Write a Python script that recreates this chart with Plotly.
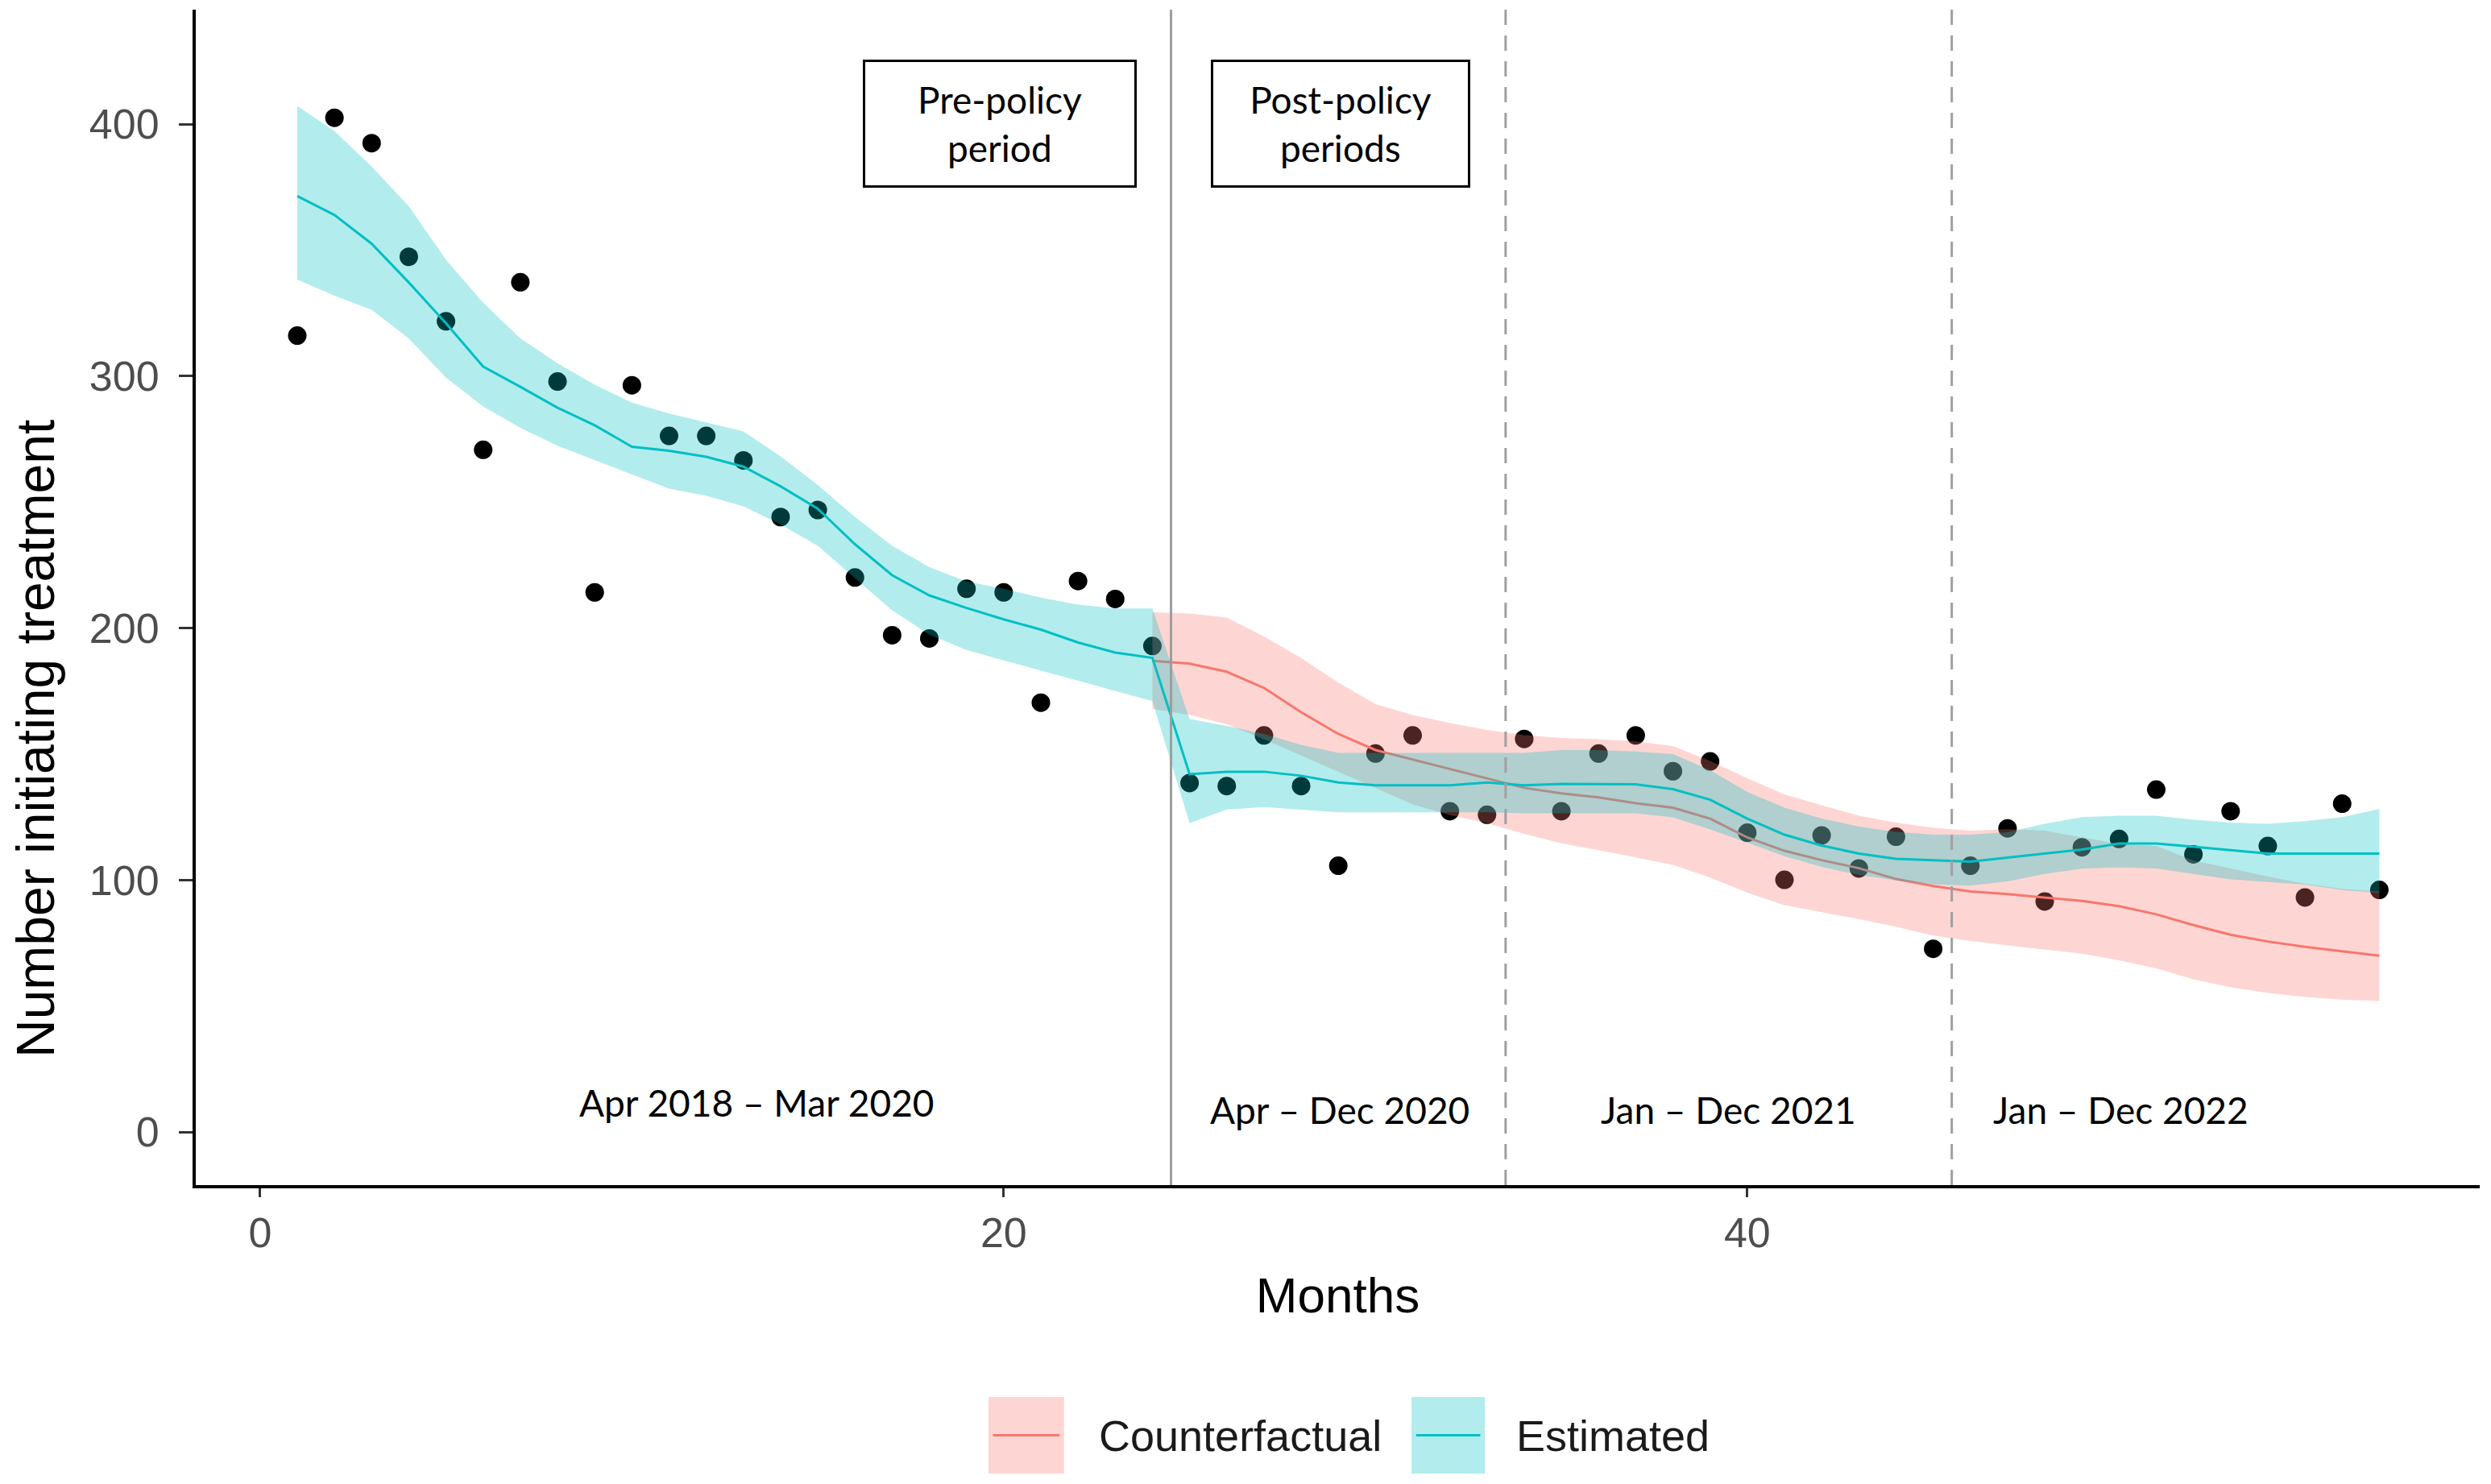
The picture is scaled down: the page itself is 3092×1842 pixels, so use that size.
import plotly.graph_objects as go

# ---------------- data ----------------
months = list(range(1, 58))
observed = [316.1, 402.6, 392.5, 347.4, 321.8, 270.8, 337.3, 297.9, 214.2, 296.4,
            276.3, 276.3, 266.6, 244.1, 246.9, 220.1, 197.2, 195.9, 215.6, 214.2,
            170.4, 218.7, 211.6, 192.9,
            138.5, 137.3, 157.4, 137.3, 105.7, 150.2, 157.4, 127.3, 125.9, 156.0,
            127.3, 150.2, 157.4, 143.2, 147.1, 118.8, 100.1, 117.7, 104.6, 117.2,
            72.7, 105.7, 120.5, 91.5, 113.0, 116.3, 135.9, 110.2, 127.3, 113.5,
            93.1, 130.3, 96.1]

estimated = [371.5, 364.0, 352.6, 337.2, 321.0, 303.8, 295.8, 287.5, 280.5, 272.0,
             270.4, 268.0, 264.1, 256.3, 247.4, 233.3, 221.0, 213.0, 208.0, 203.5,
             199.4, 194.3, 190.3, 188.2,
             142.0, 143.0, 143.0, 141.4, 138.7, 137.6, 137.6, 137.6, 138.7, 137.6,
             138.2, 138.2, 138.0, 136.1, 131.9, 124.4, 118.0, 113.7, 110.5, 108.4,
             107.9, 107.3, 108.9, 110.5, 112.1, 114.5, 114.5, 113.2, 111.9, 110.5,
             110.5, 110.5, 110.5]
estimated_upper = [407.3, 397.3, 383.2, 367.5, 346.2, 329.2, 315.0, 305.1, 296.6, 289.5,
                   285.2, 281.6, 278.1, 268.2, 256.8, 244.1, 232.7, 224.2, 218.5, 215.6,
                   212.1, 209.3, 207.8, 207.8,
                   163.9, 161.2, 158.0, 153.7, 150.5, 150.5, 150.5, 150.5, 150.5, 150.5,
                   151.6, 151.6, 151.0, 150.0, 143.6, 135.0, 128.7, 124.4, 121.2, 119.1,
                   118.0, 118.0, 119.0, 122.3, 125.0, 125.5, 125.5, 123.9, 122.8, 122.3,
                   123.4, 125.0, 128.2]
estimated_lower = [338.4, 332.0, 326.4, 315.0, 299.4, 288.0, 279.5, 272.4, 266.7, 261.1,
                   255.4, 252.6, 248.3, 241.2, 232.7, 219.9, 207.1, 197.4, 191.3, 187.2,
                   183.2, 179.0, 175.0, 171.0,
                   122.6, 128.0, 129.0, 128.0, 126.9, 126.9, 126.9, 126.9, 126.9, 126.5,
                   126.5, 126.5, 126.5, 124.9, 120.1, 114.8, 109.5, 105.2, 102.0, 99.9,
                   98.3, 97.8, 99.5, 102.4, 104.5, 105.1, 104.6, 102.4, 100.3, 99.2,
                   98.2, 96.0, 94.9]

cf_months = list(range(24, 58))
counterfactual = [187.0, 185.9, 182.7, 176.3, 166.6, 158.0, 151.6, 147.8, 144.1, 140.3,
                  136.6, 134.4, 132.8, 130.5, 128.7, 124.4, 116.9, 111.6, 107.9, 104.7,
                  100.4, 97.6, 95.5, 94.4, 93.1, 91.7, 89.6, 86.4, 82.1, 78.3,
                  75.6, 73.5, 71.7, 70.0]
cf_upper = [206.3, 205.8, 204.2, 196.7, 188.1, 178.4, 169.8, 165.5, 162.3, 159.6,
            157.5, 156.4, 155.9, 155.0, 153.2, 147.3, 140.4, 134.0, 129.7, 125.5,
            122.8, 120.7, 119.6, 120.2, 119.6, 117.0, 114.3, 113.5, 107.8, 104.6,
            101.4, 98.5, 96.5, 95.5]
cf_lower = [168.0, 165.5, 161.8, 155.9, 149.4, 143.0, 136.6, 130.1, 125.8, 122.6,
            118.3, 114.6, 111.9, 109.0, 106.0, 101.0, 95.0, 90.0, 87.3, 84.5,
            81.5, 78.0, 75.8, 74.0, 72.4, 70.8, 68.1, 64.9, 60.6, 57.4,
            55.2, 53.6, 52.5, 52.0]

policy_break = 24.5
period_breaks = [33.5, 45.5]
period_labels = ["Apr 2018 \u2013 Mar 2020", "Apr \u2013 Dec 2020",
                 "Jan \u2013 Dec 2021", "Jan \u2013 Dec 2022"]
period_label_x = [13.36, 29.04, 39.5, 50.04]
period_label_y = [11.6, 8.9, 8.9, 8.9]
box_labels = ["Pre-policy<br>period", "Post-policy<br>periods"]
box_x = [19.9, 29.05]
box_y = [400.4, 400.4]
box_w = [334, 316]
legend_names = ["Counterfactual", "Estimated"]
y_ticks = [0, 100, 200, 300, 400]
x_ticks = [0, 20, 40]

RED = "#F8766D"
TEAL = "#00BFC4"
RED_FILL = "rgba(248,118,109,0.3)"
TEAL_FILL = "rgba(0,191,196,0.3)"
FONT_SANS = "Liberation Sans, Arial"

fig = go.Figure()

fig.add_trace(go.Scatter(x=months, y=observed, mode="markers",
                         marker=dict(color="black", size=23),
                         showlegend=False, hoverinfo="skip"))

# counterfactual ribbon + line
fig.add_trace(go.Scatter(x=cf_months, y=cf_upper, mode="lines", line=dict(width=0),
                         showlegend=False, hoverinfo="skip"))
fig.add_trace(go.Scatter(x=cf_months, y=cf_lower, mode="lines", line=dict(width=0),
                         fill="tonexty", fillcolor=RED_FILL,
                         showlegend=False, hoverinfo="skip"))
fig.add_trace(go.Scatter(x=cf_months, y=counterfactual, mode="lines",
                         line=dict(color=RED, width=3), showlegend=False))

# estimated ribbon + line
fig.add_trace(go.Scatter(x=months, y=estimated_upper, mode="lines", line=dict(width=0),
                         showlegend=False, hoverinfo="skip"))
fig.add_trace(go.Scatter(x=months, y=estimated_lower, mode="lines", line=dict(width=0),
                         fill="tonexty", fillcolor=TEAL_FILL,
                         showlegend=False, hoverinfo="skip"))
fig.add_trace(go.Scatter(x=months, y=estimated, mode="lines",
                         line=dict(color=TEAL, width=3), showlegend=False))

shapes = []
shapes.append(dict(type="line", xref="x", yref="paper", x0=policy_break, x1=policy_break,
                   y0=0, y1=1, line=dict(color="#9E9E9E", width=3)))
for b in period_breaks:
    shapes.append(dict(type="line", xref="x", yref="paper", x0=b, x1=b, y0=0, y1=1,
                       line=dict(color="#A0A0A0", width=3, dash="19px,13px")))

# legend keys (paper coords)
key_x = [(0.3471, 0.3802), (0.5323, 0.5644)]
key_fill = [RED_FILL, TEAL_FILL]
key_line = [RED, TEAL]
key_y0, key_y1 = -0.2454, -0.1803
for (x0, x1), fc, lc in zip(key_x, key_fill, key_line):
    shapes.append(dict(type="rect", xref="paper", yref="paper", x0=x0, x1=x1,
                       y0=key_y0, y1=key_y1, fillcolor=fc, line=dict(width=0)))
    shapes.append(dict(type="line", xref="paper", yref="paper", x0=x0 + 0.002, x1=x1 - 0.002,
                       y0=(key_y0 + key_y1) / 2, y1=(key_y0 + key_y1) / 2,
                       line=dict(color=lc, width=3)))

annotations = []
for t, x, y in zip(period_labels, period_label_x, period_label_y):
    annotations.append(dict(x=x, y=y, xref="x", yref="y", text=t, showarrow=False,
                            font=dict(family="Lato", size=46, color="black"),
                            xanchor="center", yanchor="middle"))
for t, x, y, w in zip(box_labels, box_x, box_y, box_w):
    annotations.append(dict(x=x, y=y, xref="x", yref="y", text=t, showarrow=False,
                            font=dict(family="Lato", size=46, color="black"),
                            bordercolor="black", borderwidth=3, borderpad=0,
                            width=w, height=153, bgcolor="white",
                            xanchor="center", yanchor="middle", align="center"))
legend_text_x = [0.3947, 0.5774]
for t, x in zip(legend_names, legend_text_x):
    annotations.append(dict(x=x, y=(key_y0 + key_y1) / 2, xref="paper", yref="paper",
                            text=t, showarrow=False, xanchor="left", yanchor="middle",
                            font=dict(family=FONT_SANS, size=54, color="#1a1a1a")))
# y-axis title (placed as in the reference, slightly below the panel centre)
annotations.append(dict(x=-0.0702, y=0.3797, xref="paper", yref="paper",
                        text="Number initiating treatment", textangle=-90, showarrow=False,
                        xanchor="center", yanchor="middle",
                        font=dict(family=FONT_SANS, size=66, color="black")))

fig.update_layout(
    width=3092, height=1842,
    margin=dict(l=243, r=14, t=12, b=371, autoexpand=False),
    paper_bgcolor="white", plot_bgcolor="white",
    shapes=shapes, annotations=annotations,
    showlegend=False,
    xaxis=dict(range=[-1.73, 59.7], tickvals=x_ticks, showgrid=False, zeroline=False,
               showline=True, linecolor="black", linewidth=4,
               ticks="outside", ticklen=11, tickwidth=3, tickcolor="#333333",
               tickfont=dict(family=FONT_SANS, size=52, color="#4D4D4D"),
               title=dict(text="Months", standoff=28,
                          font=dict(family=FONT_SANS, size=62, color="black"))),
    yaxis=dict(range=[-21.1, 445.5], tickvals=y_ticks, showgrid=False, zeroline=False,
               showline=True, linecolor="black", linewidth=4,
               ticks="outside", ticklen=17, tickwidth=3, tickcolor="#333333",
               ticklabelstandoff=14,
               tickfont=dict(family=FONT_SANS, size=52, color="#4D4D4D")),
)

fig.write_html("out.html", config={"displayModeBar": False},
               post_script="document.body.style.margin='0';")
